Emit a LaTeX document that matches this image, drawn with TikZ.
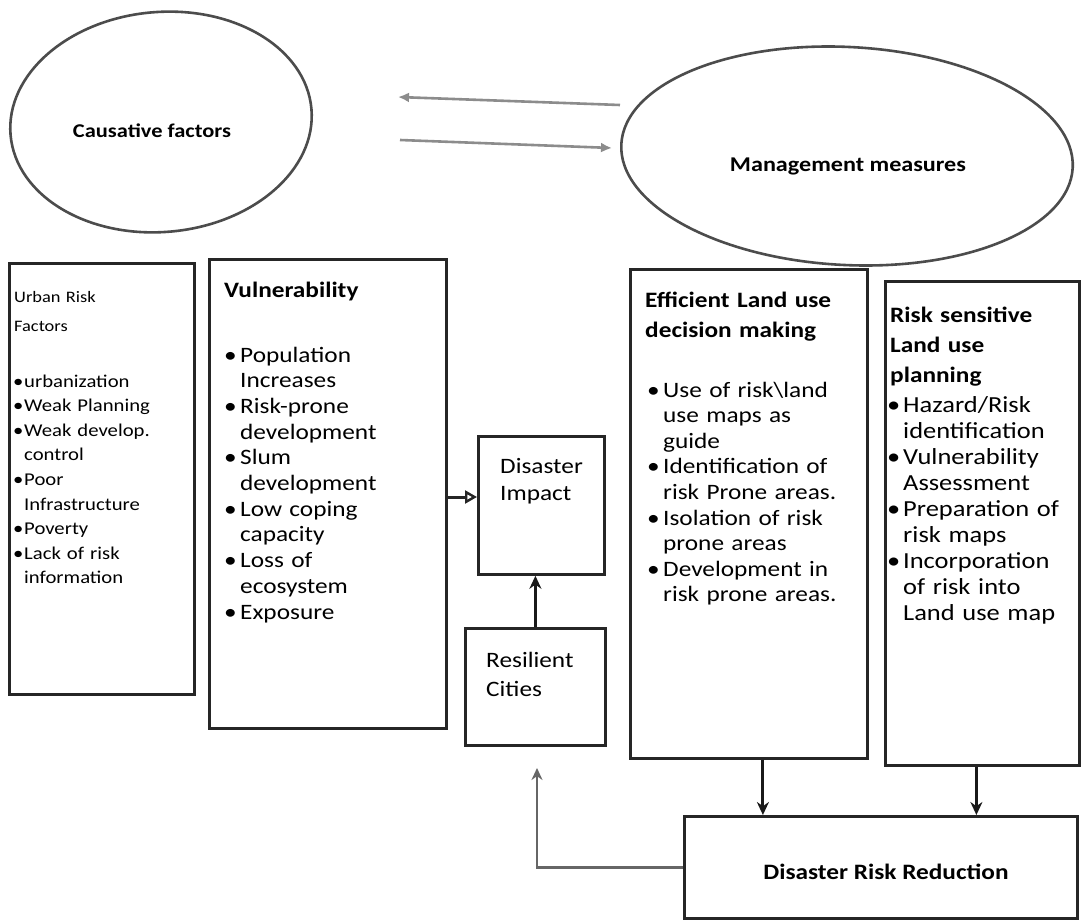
\documentclass[tikz,border=0pt]{standalone}
\usepackage{fontspec}
\setmainfont{Carlito}[FakeStretch=1.15]
\usetikzlibrary{shapes.geometric,arrows.meta,calc}
\newcommand\bl{\makebox[16pt][l]{\textbullet}}
\newcommand\ind{\hspace*{16pt}}
\begin{document}
\begin{tikzpicture}[x=1pt,y=-1pt,
  box/.style={draw=black!85,line width=2.8pt,rectangle,inner sep=0pt,anchor=north west},
  oval/.style={draw=black!70,line width=2.6pt,ellipse,inner sep=0pt},
  txt/.style={anchor=base west,inner sep=0pt,align=left,text width=#1},
  txt/.default=220pt,
  arr/.style={draw=black!90,line width=3pt,-{Stealth[length=13pt,width=12pt]}},
  garr/.style={draw=black!45,line width=2.6pt,-{Latex[length=11pt,width=10pt]}}
]
\useasboundingbox (0,0) rectangle (1081,923);
\fill[white] (0,0) rectangle (1081,923);

% ellipses
\node[oval,minimum width=302pt,minimum height=220pt,rotate=5] (cau) at (161,122) {};
\node[font={\fontsize{19.5}{22}\selectfont\bfseries}] (caut) at (152,131) {Causative factors};
\node[oval,minimum width=452pt,minimum height=218pt,rotate=-3] (man) at (847,156) {};
\node[font={\fontsize{21}{24}\selectfont\bfseries}] (mant) at (848,166) {Management measures};

\coordinate (a1s) at (620,105);
\coordinate (a1e) at (398,97);
\coordinate (a2s) at (400,140);
\coordinate (a2e) at (612,148);
\draw[garr] (a1s) -- (a1e);
\draw[garr] (a2s) -- (a2e);

% boxes
\node[box,minimum width=185pt,minimum height=431pt] (urb) at (8,262) {};
\node[box,minimum width=237pt,minimum height=469pt] (vul) at (208,258) {};
\node[box,minimum width=126pt,minimum height=138pt] (imp) at (477,435) {};
\node[box,minimum width=140pt,minimum height=117pt] (res) at (464,627) {};
\node[box,minimum width=237pt,minimum height=489pt] (eff) at (629,268) {};
\node[box,minimum width=194pt,minimum height=484pt] (rsk) at (884,280) {};
\node[box,minimum width=393pt,minimum height=102pt] (drr) at (683,815) {};

% texts
\node[txt=175pt,font={\fontsize{16}{29}\selectfont}] (urbt) at (14,302) {Urban Risk\\Factors};
\node[txt=180pt,font={\fontsize{18}{24.6}\selectfont}] (urbl) at (13,387) {%
\makebox[11pt][l]{\textbullet}urbanization\\
\makebox[11pt][l]{\textbullet}Weak Planning\\
\makebox[11pt][l]{\textbullet}Weak develop.\\
\hspace*{11pt}control\\
\makebox[11pt][l]{\textbullet}Poor\\
\hspace*{11pt}Infrastructure\\
\makebox[11pt][l]{\textbullet}Poverty\\
\makebox[11pt][l]{\textbullet}Lack of risk\\
\hspace*{11pt}information};

\node[txt,font={\fontsize{22}{26}\selectfont\bfseries}] (vult) at (224,297) {Vulnerability};
\node[txt,font={\fontsize{22}{25.7}\selectfont}] (vull) at (224,362) {%
\bl Population\\ \ind Increases\\
\bl Risk-prone\\ \ind development\\
\bl Slum\\ \ind development\\
\bl Low coping\\ \ind capacity\\
\bl Loss of\\ \ind ecosystem\\
\bl Exposure};

\node[txt=120pt,font={\fontsize{22}{27}\selectfont}] (impt) at (500,473) {Disaster\\Impact};
\node[txt=120pt,font={\fontsize{22}{29}\selectfont}] (rest) at (486,667) {Resilient\\Cities};

\node[txt,font={\fontsize{22}{30}\selectfont\bfseries}] (efft) at (645,307) {Efficient Land use\\decision making};
\node[txt,font={\fontsize{22}{25.6}\selectfont}] (effl) at (647,397) {%
\bl Use of risk\textbackslash land\\ \ind use maps as\\ \ind guide\\
\bl Identification of\\ \ind risk Prone areas.\\
\bl Isolation of risk\\ \ind prone areas\\
\bl Development in\\ \ind risk prone areas.};

\node[txt=185pt,font={\fontsize{22}{30}\selectfont\bfseries}] (rskt) at (890,322) {Risk sensitive\\Land use\\planning};
\node[txt=190pt,font={\fontsize{23}{26.1}\selectfont}] (rskl) at (887,412) {%
\bl Hazard/Risk\\ \ind identification\\
\bl Vulnerability\\ \ind Assessment\\
\bl Preparation of\\ \ind risk maps\\
\bl Incorporation\\ \ind of risk into\\ \ind Land use map};

\node[font={\fontsize{22}{25}\selectfont\bfseries}] (drrt) at (886,872) {Disaster Risk Reduction};

% connectors
\coordinate (ya) at (0,497);
\draw[draw=black!85,line width=3pt,-{Triangle[open,length=12pt,width=13pt,line width=2.4pt]}] (vul.east |- ya) -- (imp.west |- ya);
\draw[arr] (res.north) -- (res.north |- imp.south);
\draw[arr] ([xshift=14pt]eff.south) -- ([xshift=14pt]eff.south |- drr.north);
\draw[arr] ([xshift=-6pt]rsk.south) -- ([xshift=-6pt]rsk.south |- drr.north);
\coordinate (fb) at (537,768);
\draw[draw=black!60,line width=2.6pt,-{Stealth[length=12pt,width=11pt]}] (drr.west) -| (fb);
\end{tikzpicture}
\end{document}
